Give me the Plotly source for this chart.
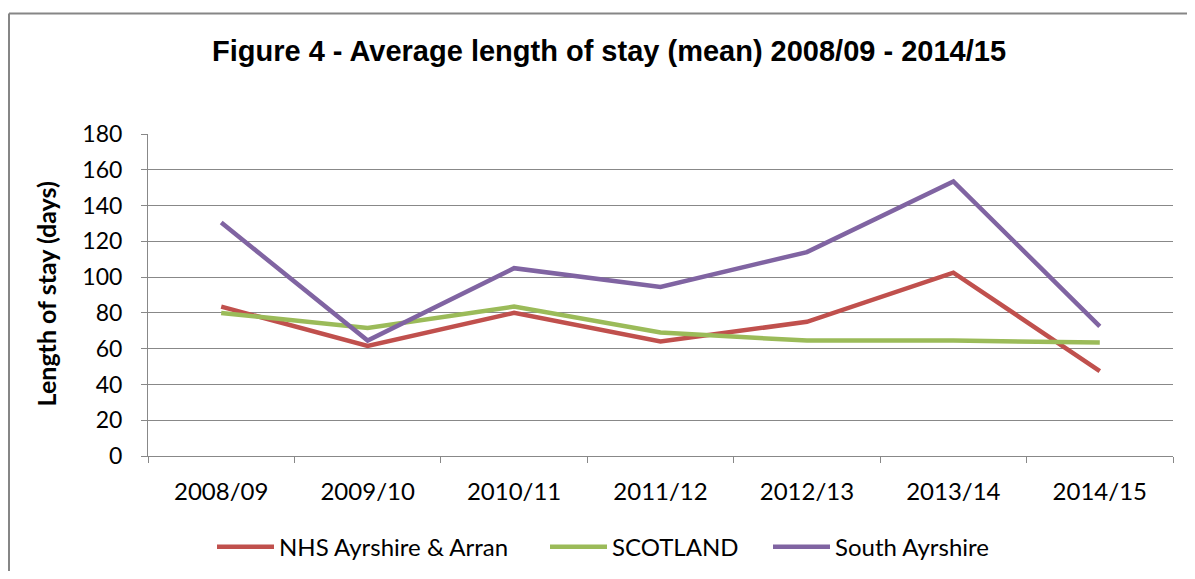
import plotly.graph_objects as go

years = ["2008/09", "2009/10", "2010/11", "2011/12", "2012/13", "2013/14", "2014/15"]
nhs_ayrshire_arran = [83.5, 61.5, 80, 64, 75, 102.5, 47.5]
scotland = [80, 71.5, 83.5, 69, 64.5, 64.5, 63.5]
south_ayrshire = [130.5, 64.5, 105, 94.5, 114, 153.5, 72.5]
y_ticks = [0, 20, 40, 60, 80, 100, 120, 140, 160, 180]

# the page body has an 8px margin; positions below are in screen px
OFF = 8
FW, FH = 1195 - 2 * OFF, 579 - 2 * OFF
PL, PR, PT, PB = 148, 1173, 133.5, 455.7
PW, PH = PR - PL, PB - PT


def px(xs):
    return (xs - PL) / PW


def py(ys):
    return (PB - ys) / PH


series = [
    ("NHS Ayrshire & Arran", nhs_ayrshire_arran, "#C0504D", "legend", 220),
    ("SCOTLAND", scotland, "#9BBB59", "legend2", 553),
    ("South Ayrshire", south_ayrshire, "#8064A2", "legend3", 776),
]

fig = go.Figure()
for name, vals, col, lg, _ in series:
    fig.add_trace(go.Scatter(x=years, y=vals, name=name, mode="lines", legend=lg,
                             line=dict(color=col, width=4.5)))

grid = "#888888"
legend_common = dict(orientation="h", xanchor="left", yanchor="middle", y=py(547),
                     font=dict(size=24), itemwidth=57, bgcolor="rgba(0,0,0,0)",
                     borderwidth=0)
layout_legends = {}
for name, vals, col, lg, lx in series:
    layout_legends[lg] = dict(legend_common, x=px(lx - 8))

fig.update_layout(
    width=FW, height=FH,
    paper_bgcolor="white", plot_bgcolor="white",
    margin=dict(l=PL - OFF, r=FW - (PR - OFF), t=PT - OFF, b=FH - (PB - OFF), autoexpand=False),
    font=dict(family="Lato, Noto Sans, sans-serif", color="#000000"),
    title=dict(text="<b>Figure 4 - Average length of stay (mean) 2008/09 - 2014/15</b>",
               font=dict(family="Liberation Sans, Arial, sans-serif", size=29, color="#000000"),
               x=(609 - OFF) / FW, xanchor="center", xref="container",
               y=1 - (51 - OFF) / FH, yanchor="middle", yref="container"),
    xaxis=dict(type="category", categoryorder="array", categoryarray=years,
               range=[-0.5, 6.5], showgrid=False, showline=True, linecolor=grid, linewidth=1,
               ticks="outside", tickson="boundaries", ticklen=6, tickcolor=grid,
               tickfont=dict(size=24), ticklabelstandoff=14, zeroline=False),
    yaxis=dict(range=[0, 180], tickvals=y_ticks, showgrid=True, gridcolor=grid, gridwidth=1,
               showline=True, linecolor=grid, linewidth=1, ticks="outside", ticklen=6,
               tickcolor=grid, tickfont=dict(size=23), zeroline=False, ticklabelstandoff=14),
    showlegend=True,
    **layout_legends,
)

fig.add_annotation(text="<b>Length of stay (days)</b>", textangle=-90,
                   x=px(46), y=py(294), xref="paper", yref="paper",
                   xanchor="center", yanchor="middle",
                   showarrow=False, font=dict(size=25, family="Lato, Noto Sans, sans-serif"))

# outer chart border (only top and left edges are visible in the reference)
border = dict(color="#868686", width=2)
fig.add_shape(type="line", xref="paper", yref="paper",
              x0=px(9), x1=px(1200), y0=py(13), y1=py(13), line=border, layer="below")
fig.add_shape(type="line", xref="paper", yref="paper",
              x0=px(9), x1=px(9), y0=py(13), y1=py(600), line=border, layer="below")

fig.write_html("out.html")
